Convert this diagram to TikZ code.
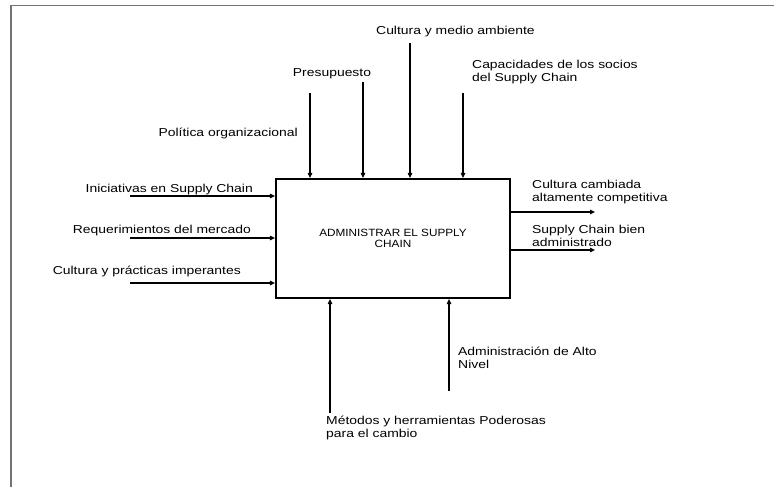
\documentclass[tikz,border=0pt]{standalone}
\usepackage{fontspec}
\setmainfont{Liberation Sans}[FakeStretch=1.21]
\newfontfamily\boxfont{Liberation Sans}[FakeStretch=1.12]
\usetikzlibrary{arrows.meta}
\begin{document}
\begin{tikzpicture}[x=1pt,y=-1pt,
  lbl/.style={inner sep=0pt, font=\fontsize{11.5}{13.5}\selectfont, align=left},
  flow/.style={line width=1.1pt, -{Triangle[length=5pt,width=4.5pt]}},
  frame/.style={draw=black!55, line width=1.2pt},
  act/.style={draw, line width=2.2pt, minimum width=234pt, minimum height=119pt,
    inner sep=0pt, font=\boxfont\fontsize{10.5}{11.5}\selectfont, align=center}]
\useasboundingbox (0,0) rectangle (774,487);
% page frame (left and top edges)
\draw[frame] (11,487) -- (11,5.5) -- (774,5.5);

% activity box
\node[act] (box) at (393,238.5) {ADMINISTRAR EL SUPPLY\\[-1pt]CHAIN};

% controls (top)
\coordinate (t1) at (310,93);
\coordinate (t2) at (363,82);
\coordinate (t3) at (410,43);
\coordinate (t4) at (463,93);
\node[lbl, anchor=east] (pol) at (298,133) {Política organizacional};
\node[lbl] (pre) at (332,74) {Presupuesto};
\node[lbl, anchor=west] (cma) at (376,32) {Cultura y medio ambiente};
\node[lbl, anchor=west] (cap) at (472,72) {Capacidades de los socios\\del Supply Chain};
\foreach \c in {t1,t2,t3,t4} \draw[flow] (\c) -- (\c |- box.north);

% inputs (left)
\coordinate (l1) at (130,196);
\coordinate (l2) at (130,238);
\coordinate (l3) at (130,283);
\node[lbl, anchor=east] (ini) at (253,190) {Iniciativas en Supply Chain};
\node[lbl, anchor=east] (req) at (251,231) {Requerimientos del mercado};
\node[lbl, anchor=east] (cpi) at (241,271) {Cultura y prácticas imperantes};
\foreach \c in {l1,l2,l3} \draw[flow] (\c) -- (\c -| box.west);

% outputs (right)
\coordinate (r1) at (595,212);
\coordinate (r2) at (595,250);
\node[lbl, anchor=west] (ccc) at (532,192) {Cultura cambiada\\altamente competitiva};
\node[lbl, anchor=west] (scb) at (532,236) {Supply Chain bien\\administrado};
\foreach \c in {r1,r2} \draw[flow] (box.east |- \c) -- (\c);

% mechanisms (bottom)
\coordinate (b1) at (330,413);
\coordinate (b2) at (449,391);
\node[lbl, anchor=west] (met) at (326,428) {Métodos y herramientas Poderosas\\para el cambio};
\node[lbl, anchor=west] (aan) at (458,358) {Administración de Alto\\Nivel};
\foreach \c in {b1,b2} \draw[flow] (\c) -- (\c |- box.south);
\end{tikzpicture}
\end{document}
